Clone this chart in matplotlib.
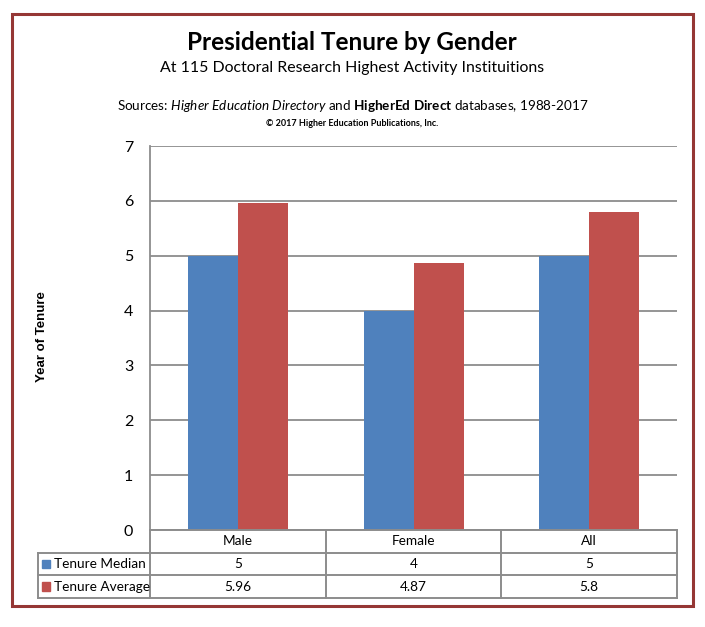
import matplotlib
matplotlib.use("Agg")
import matplotlib.pyplot as plt
from matplotlib.patches import Rectangle

categories = ["Male", "Female", "All"]
series_names = ["Tenure Median", "Tenure Average"]
median = [5, 4, 5]
average = [5.96, 4.87, 5.8]
median_labels = ["5", "4", "5"]
average_labels = ["5.96", "4.87", "5.8"]
yticks = [0, 1, 2, 3, 4, 5, 6, 7]

BLUE = "#4F81BD"
RED = "#C0504D"
GRID = "#8C8C8C"
FONT = ["Lato", "DejaVu Sans"]
plt.rcParams["font.family"] = FONT
plt.rcParams["mathtext.fontset"] = "custom"
plt.rcParams["mathtext.rm"] = "Lato"
plt.rcParams["mathtext.it"] = "Lato:italic"
plt.rcParams["mathtext.bf"] = "Lato:bold"

W, H = 705, 627
fig = plt.figure(figsize=(W / 100, H / 100), dpi=100)

def fx(px):
    return px / W

def fy(py):
    return 1 - py / H

# outer border
fig.patches.append(Rectangle((fx(12), fy(606)), fx(693) - fx(12), fy(14) - fy(606),
                             transform=fig.transFigure, fill=False,
                             edgecolor="#953735", linewidth=2.2))

# titles
fig.text(fx(352), fy(42), "Presidential Tenure by Gender", ha="center", va="center",
         fontsize=17.5, fontweight="bold")
fig.text(fx(352), fy(68), "At 115 Doctoral Research Highest Activity Instituitions",
         ha="center", va="center", fontsize=11.45)
fig.text(fx(353), fy(106),
         r"Sources: $\it{Higher\ Education\ Directory}$ and $\bf{HigherEd\ Direct}$ databases, 1988-2017",
         ha="center", va="center", fontsize=9.7)
fig.text(fx(352), fy(123), "\u00a9 2017 Higher Education Publications, Inc.",
         ha="center", va="center", fontsize=6.5, fontweight="bold")

# main axes
L, R, T, B = 150, 677, 146, 530
ax = fig.add_axes([fx(L), fy(B), fx(R) - fx(L), fy(T) - fy(B)])
x = list(range(len(categories)))
bw = 50 / ((R - L) / 3)
ax.bar([i - bw / 2 for i in x], median, width=bw, color=BLUE, zorder=3)
ax.bar([i + bw / 2 for i in x], average, width=bw, color=RED, zorder=3)
ax.set_xlim(-0.5, 2.5)
ax.set_ylim(0, 7)
ax.set_yticks(yticks)
ax.set_yticklabels([str(t) for t in yticks], fontsize=11.5)
ax.set_xticks([])
ax.yaxis.grid(True, color=GRID, linewidth=1.3, zorder=0)
ax.tick_params(axis="y", length=0, pad=12)
for s in ["top", "right", "bottom"]:
    ax.spines[s].set_visible(False)
ax.spines["left"].set_color(GRID)
ax.spines["left"].set_linewidth(1.3)

fig.text(fx(42), fy(337), "Year of Tenure", rotation=90, ha="center", va="center",
         fontsize=9.5, fontweight="bold", family=["Liberation Sans", "DejaVu Sans"])

# data table
TL, TB = 38, 598
colw = (R - L) / 3
tax = fig.add_axes([fx(TL), fy(TB), fx(R) - fx(TL), fy(B) - fy(TB)])
tax.set_xlim(-0.5 - (L - TL) / colw, 2.5)
tax.set_ylim(0, 3)
tax.axis("off")
x0 = -0.5 - (L - TL) / colw
lw = 1.4
tax.plot([-0.5, 2.5], [3, 3], color=GRID, lw=lw, clip_on=False)
for yy in [2, 1, 0]:
    tax.plot([x0, 2.5], [yy, yy], color=GRID, lw=lw, clip_on=False)
tax.plot([x0, x0], [0, 2], color=GRID, lw=lw, clip_on=False)
for xx in [-0.5, 0.5, 1.5, 2.5]:
    tax.plot([xx, xx], [0, 3], color=GRID, lw=lw, clip_on=False)

TFS = 9.8
for i, c in enumerate(categories):
    tax.text(i, 2.5, c, ha="center", va="center", fontsize=TFS)
    tax.text(i, 1.5, median_labels[i], ha="center", va="center", fontsize=TFS)
    tax.text(i, 0.5, average_labels[i], ha="center", va="center", fontsize=TFS)

sq = 8 / colw
for row, (name, col) in enumerate(zip(series_names, [BLUE, RED])):
    yc = 1.5 - row
    tax.add_patch(Rectangle((x0 + 4 / colw, yc - 0.17), sq, 0.36, color=col, clip_on=False))
    tax.text(x0 + 16 / colw, yc, name, ha="left", va="center", fontsize=TFS)

fig.savefig("out.png", dpi=100)
